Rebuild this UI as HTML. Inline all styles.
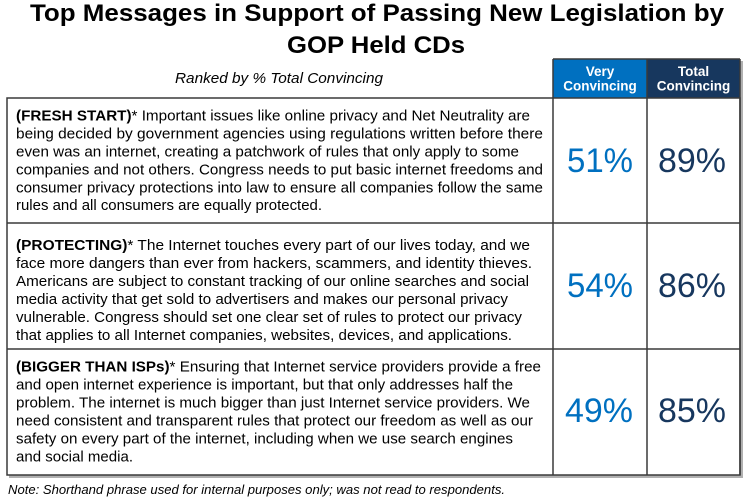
<!DOCTYPE html>
<html>
<head>
<meta charset="utf-8">
<style>
html,body{margin:0;padding:0;background:#fff;}
svg{display:block;}
text{font-family:"Liberation Sans",Arial,sans-serif;}
</style>
</head>
<body>
<svg width="748" height="504" viewBox="0 0 748 504" xmlns="http://www.w3.org/2000/svg">
  <rect x="0" y="0" width="748" height="504" fill="#fff"/>
  <!-- Title -->
  <text x="30" y="21" font-size="24" font-weight="bold" fill="#000" textLength="694" lengthAdjust="spacingAndGlyphs">Top Messages in Support of Passing New Legislation by</text>
  <text x="287" y="53" font-size="24" font-weight="bold" fill="#000" textLength="178" lengthAdjust="spacingAndGlyphs">GOP Held CDs</text>
  <text x="175" y="83" font-size="14.5" font-style="italic" fill="#000" textLength="208" lengthAdjust="spacingAndGlyphs">Ranked by % Total Convincing</text>

  <!-- shadow -->
  <rect x="9" y="100" width="734" height="378" fill="#b0b0b0"/>
  <rect x="555" y="61" width="188" height="40" fill="#b0b0b0"/>
  <!-- table background -->
  <rect x="7" y="98" width="733" height="377" fill="#fff"/>
  <!-- header cells -->
  <rect x="553" y="59" width="94" height="39" fill="#0070C0"/>
  <rect x="647" y="59" width="93" height="39" fill="#17375E"/>
  <text x="600" y="76" font-size="13.5" font-weight="bold" fill="#fff" text-anchor="middle">Very</text>
  <text x="600" y="90.5" font-size="13.5" font-weight="bold" fill="#fff" text-anchor="middle">Convincing</text>
  <text x="693.5" y="76" font-size="13.5" font-weight="bold" fill="#fff" text-anchor="middle">Total</text>
  <text x="693.5" y="90.5" font-size="13.5" font-weight="bold" fill="#fff" text-anchor="middle">Convincing</text>

  <!-- grid lines -->
  <g stroke="#3a3a3a" stroke-width="1.5" fill="none">
    <rect x="7" y="98" width="733" height="377"/>
    <line x1="553" y1="59" x2="740" y2="59"/>
    <line x1="553" y1="59" x2="553" y2="475"/>
    <line x1="647" y1="59" x2="647" y2="475"/>
    <line x1="740" y1="59" x2="740" y2="475"/>
    <line x1="7" y1="223" x2="740" y2="223"/>
    <line x1="7" y1="349" x2="740" y2="349"/>
  </g>

  <!-- Row 1 -->
  <g font-size="14.5" fill="#000">
    <text x="16" y="120.7" textLength="514" lengthAdjust="spacingAndGlyphs"><tspan font-weight="bold">(FRESH START)</tspan>* Important issues like online privacy and Net Neutrality are</text>
    <text x="16" y="138.6" textLength="527" lengthAdjust="spacingAndGlyphs">being decided by government agencies using regulations written before there</text>
    <text x="16" y="156.5" textLength="503" lengthAdjust="spacingAndGlyphs">even was an internet, creating a patchwork of rules that only apply to some</text>
    <text x="16" y="174.4" textLength="527" lengthAdjust="spacingAndGlyphs">companies and not others. Congress needs to put basic internet freedoms and</text>
    <text x="16" y="192.3" textLength="527" lengthAdjust="spacingAndGlyphs">consumer privacy protections into law to ensure all companies follow the same</text>
    <text x="16" y="210.2" textLength="306" lengthAdjust="spacingAndGlyphs">rules and all consumers are equally protected.</text>

    <!-- Row 2 -->
    <text x="16" y="250" textLength="514" lengthAdjust="spacingAndGlyphs"><tspan font-weight="bold">(PROTECTING)</tspan>* The Internet touches every part of our lives today, and we</text>
    <text x="16" y="268" textLength="516" lengthAdjust="spacingAndGlyphs">face more dangers than ever from hackers, scammers, and identity thieves.</text>
    <text x="16" y="286" textLength="513" lengthAdjust="spacingAndGlyphs">Americans are subject to constant tracking of our online searches and social</text>
    <text x="16" y="304" textLength="492" lengthAdjust="spacingAndGlyphs">media activity that get sold to advertisers and makes our personal privacy</text>
    <text x="16" y="322" textLength="506" lengthAdjust="spacingAndGlyphs">vulnerable. Congress should set one clear set of rules to protect our privacy</text>
    <text x="16" y="340" textLength="496" lengthAdjust="spacingAndGlyphs">that applies to all Internet companies, websites, devices, and applications.</text>

    <!-- Row 3 -->
    <text x="16" y="371.7" textLength="525" lengthAdjust="spacingAndGlyphs"><tspan font-weight="bold">(BIGGER THAN ISPs)</tspan>* Ensuring that Internet service providers provide a free</text>
    <text x="16" y="389.7" textLength="497" lengthAdjust="spacingAndGlyphs">and open internet experience is important, but that only addresses half the</text>
    <text x="16" y="407.7" textLength="514" lengthAdjust="spacingAndGlyphs">problem. The internet is much bigger than just Internet service providers. We</text>
    <text x="16" y="425.7" textLength="517" lengthAdjust="spacingAndGlyphs">need consistent and transparent rules that protect our freedom as well as our</text>
    <text x="16" y="443.7" textLength="497" lengthAdjust="spacingAndGlyphs">safety on every part of the internet, including when we use search engines</text>
    <text x="16" y="461.7" textLength="117" lengthAdjust="spacingAndGlyphs">and social media.</text>
  </g>

  <!-- Percentages -->
  <g font-size="34">
    <text x="600" y="172" fill="#0070C0" text-anchor="middle" textLength="66" lengthAdjust="spacingAndGlyphs">51%</text>
    <text x="692" y="172" fill="#17375E" text-anchor="middle" textLength="68" lengthAdjust="spacingAndGlyphs">89%</text>
    <text x="600" y="297" fill="#0070C0" text-anchor="middle" textLength="66" lengthAdjust="spacingAndGlyphs">54%</text>
    <text x="692" y="297" fill="#17375E" text-anchor="middle" textLength="68" lengthAdjust="spacingAndGlyphs">86%</text>
    <text x="599" y="422" fill="#0070C0" text-anchor="middle" textLength="68" lengthAdjust="spacingAndGlyphs">49%</text>
    <text x="692" y="422" fill="#17375E" text-anchor="middle" textLength="68" lengthAdjust="spacingAndGlyphs">85%</text>
  </g>

  <!-- Note -->
  <text x="8" y="494" font-size="12.5" font-style="italic" fill="#000" textLength="497" lengthAdjust="spacingAndGlyphs">Note: Shorthand phrase used for internal purposes only; was not read to respondents.</text>
</svg>
</body>
</html>
